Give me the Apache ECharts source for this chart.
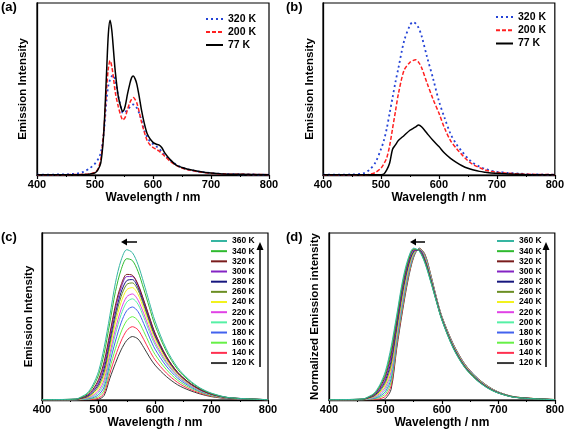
<!DOCTYPE html>
<html><head><meta charset="utf-8">
<script src="https://cdn.jsdelivr.net/npm/echarts@6/dist/echarts.min.js"></script>
<style>html,body{margin:0;padding:0;background:#fff}#c{width:567px;height:431px}</style>
</head><body><div id="c"></div>
<script>
// ---------- Panel (a) ----------
const A_WL = [400,450,470,480,490,500,505,510,515,520,523,526,529,532,535,540,545,548,552,556,560,563,566,569,572,576,580,585,590,595,600,605,610,615,620,630,640,650,660,670,680,700,720,750,800];
const A_320 = [0.002,0.004,0.009,0.018,0.037,0.066,0.09,0.13,0.24,0.44,0.52,0.555,0.575,0.58,0.55,0.46,0.39,0.36,0.365,0.38,0.395,0.405,0.41,0.405,0.39,0.36,0.32,0.26,0.22,0.195,0.18,0.168,0.155,0.135,0.115,0.086,0.06,0.043,0.033,0.025,0.019,0.011,0.007,0.004,0.002];
const A_200 = [0.002,0.002,0.003,0.004,0.006,0.015,0.035,0.09,0.25,0.50,0.62,0.665,0.63,0.56,0.48,0.40,0.34,0.32,0.335,0.38,0.42,0.44,0.45,0.44,0.42,0.37,0.31,0.25,0.20,0.175,0.16,0.15,0.14,0.125,0.11,0.078,0.056,0.04,0.031,0.024,0.018,0.01,0.006,0.004,0.002];
const A_77 = [0.002,0.002,0.002,0.003,0.005,0.012,0.03,0.07,0.24,0.60,0.82,0.90,0.84,0.72,0.60,0.46,0.39,0.37,0.40,0.47,0.53,0.565,0.575,0.56,0.53,0.46,0.38,0.30,0.24,0.21,0.19,0.18,0.175,0.16,0.13,0.088,0.058,0.044,0.034,0.027,0.02,0.011,0.006,0.004,0.002];

// ---------- Panel (b) ----------
const B_WL = [400,450,470,480,490,500,505,510,515,520,525,530,540,550,555,560,565,570,580,590,600,610,620,630,640,650,660,670,680,690,700,720,740,760,800];
const B_320 = [0.002,0.003,0.01,0.03,0.07,0.15,0.20,0.27,0.36,0.45,0.54,0.62,0.78,0.87,0.89,0.88,0.855,0.81,0.68,0.56,0.43,0.33,0.24,0.18,0.136,0.097,0.068,0.049,0.035,0.025,0.019,0.012,0.008,0.004,0.002];
const B_200 = [0.002,0.002,0.002,0.004,0.014,0.04,0.065,0.10,0.17,0.27,0.37,0.47,0.61,0.655,0.665,0.67,0.655,0.625,0.53,0.44,0.36,0.27,0.20,0.155,0.117,0.083,0.058,0.043,0.029,0.021,0.016,0.01,0.006,0.004,0.002];
const B_77 = [0.001,0.001,0.001,0.001,0.001,0.002,0.006,0.03,0.07,0.15,0.175,0.20,0.23,0.26,0.27,0.28,0.29,0.28,0.24,0.20,0.165,0.126,0.097,0.074,0.054,0.039,0.029,0.021,0.016,0.012,0.01,0.006,0.004,0.002,0.001];

// ---------- Panels (c) and (d) ----------
const CD_WL = [400,460,470,480,490,500,510,520,530,540,550,560,570,580,590,600,620,640,660,680,700,730,800];
const TEMPS = ['360 K','340 K','320 K','300 K','280 K','260 K','240 K','220 K','200 K','180 K','160 K','140 K','120 K'];
const TEMP_COLORS = ['#36b5a2','#2fba2f','#7a1c1c','#8424c4','#16167e','#6b8e23','#f2f21e','#e042e6','#55f0a5','#4262ee','#66f046','#ff3050','#3a3a3a'];

// (c) emission intensity
const C_360 = [0.002,0.006,0.020,0.041,0.090,0.171,0.315,0.504,0.702,0.837,0.900,0.882,0.810,0.702,0.585,0.473,0.306,0.194,0.122,0.072,0.041,0.015,0.002];
const C_340 = [0.002,0.005,0.017,0.035,0.078,0.149,0.278,0.461,0.649,0.780,0.846,0.835,0.769,0.666,0.555,0.448,0.292,0.184,0.116,0.069,0.039,0.014,0.002];
const C_320 = [0.002,0.005,0.014,0.029,0.063,0.122,0.230,0.397,0.568,0.689,0.752,0.747,0.692,0.599,0.498,0.402,0.262,0.166,0.105,0.063,0.035,0.014,0.002];
const C_300 = [0.002,0.004,0.013,0.026,0.056,0.109,0.210,0.379,0.548,0.671,0.739,0.739,0.686,0.595,0.494,0.398,0.261,0.166,0.105,0.063,0.035,0.014,0.002];
const C_280 = [0.001,0.004,0.011,0.022,0.049,0.095,0.188,0.356,0.520,0.645,0.715,0.721,0.672,0.582,0.482,0.389,0.256,0.163,0.104,0.062,0.035,0.013,0.001];
const C_260 = [0.001,0.003,0.009,0.018,0.041,0.082,0.165,0.332,0.495,0.619,0.692,0.701,0.657,0.569,0.471,0.380,0.251,0.160,0.102,0.061,0.034,0.013,0.001];
const C_240 = [0.001,0.003,0.007,0.016,0.034,0.068,0.143,0.306,0.462,0.585,0.660,0.673,0.632,0.547,0.452,0.366,0.241,0.155,0.099,0.060,0.033,0.013,0.002];
const C_220 = [0.001,0.002,0.006,0.012,0.027,0.054,0.120,0.276,0.424,0.543,0.618,0.635,0.598,0.518,0.428,0.346,0.229,0.147,0.094,0.057,0.032,0.012,0.002];
const C_200 = [0.001,0.001,0.004,0.009,0.020,0.043,0.099,0.252,0.395,0.511,0.586,0.606,0.573,0.496,0.409,0.331,0.220,0.142,0.090,0.055,0.031,0.012,0.002];
const C_180 = [0.001,0.001,0.003,0.006,0.014,0.031,0.078,0.221,0.353,0.462,0.535,0.557,0.529,0.458,0.377,0.305,0.203,0.131,0.084,0.051,0.029,0.011,0.002];
const C_160 = [0,0.001,0.002,0.004,0.009,0.020,0.059,0.189,0.307,0.407,0.475,0.499,0.475,0.411,0.338,0.273,0.183,0.118,0.076,0.047,0.026,0.010,0.002];
const C_140 = [0,0,0.001,0.002,0.004,0.011,0.041,0.158,0.263,0.353,0.416,0.439,0.420,0.363,0.298,0.241,0.162,0.105,0.067,0.041,0.023,0.009,0.001];
const C_120 = [0,0,0,0,0,0.004,0.027,0.129,0.220,0.300,0.357,0.380,0.365,0.315,0.258,0.209,0.141,0.091,0.059,0.036,0.020,0.008,0.001];

// (d) normalized emission intensity
const D_360 = [0.002,0.007,0.022,0.045,0.10,0.19,0.35,0.56,0.78,0.93,1.0,0.98,0.90,0.78,0.65,0.525,0.34,0.215,0.135,0.08,0.045,0.017,0.002];
const D_340 = [0.002,0.006,0.020,0.041,0.092,0.175,0.327,0.542,0.763,0.918,0.995,0.982,0.905,0.784,0.653,0.527,0.343,0.217,0.137,0.081,0.046,0.017,0.002];
const D_320 = [0.002,0.006,0.018,0.038,0.083,0.16,0.303,0.523,0.747,0.907,0.99,0.983,0.91,0.788,0.655,0.529,0.345,0.219,0.138,0.083,0.046,0.018,0.002];
const D_300 = [0.002,0.005,0.017,0.034,0.075,0.145,0.28,0.505,0.73,0.895,0.985,0.985,0.915,0.793,0.658,0.531,0.348,0.221,0.14,0.084,0.047,0.018,0.002];
const D_280 = [0.001,0.005,0.015,0.03,0.067,0.13,0.257,0.487,0.713,0.883,0.98,0.987,0.92,0.797,0.66,0.533,0.35,0.223,0.142,0.085,0.048,0.018,0.002];
const D_260 = [0.001,0.004,0.013,0.026,0.058,0.115,0.233,0.468,0.697,0.872,0.975,0.988,0.925,0.801,0.663,0.535,0.353,0.225,0.143,0.086,0.048,0.018,0.002];
const D_240 = [0.001,0.004,0.011,0.023,0.05,0.10,0.21,0.45,0.68,0.86,0.97,0.99,0.93,0.805,0.665,0.538,0.355,0.228,0.145,0.088,0.049,0.019,0.003];
const D_220 = [0.001,0.003,0.009,0.019,0.042,0.085,0.187,0.432,0.663,0.848,0.965,0.992,0.935,0.809,0.668,0.54,0.358,0.23,0.147,0.089,0.05,0.019,0.003];
const D_200 = [0.001,0.002,0.007,0.015,0.033,0.07,0.163,0.413,0.647,0.837,0.96,0.993,0.94,0.813,0.67,0.542,0.36,0.232,0.148,0.09,0.05,0.019,0.003];
const D_180 = [0.001,0.002,0.006,0.011,0.025,0.055,0.14,0.395,0.63,0.825,0.955,0.995,0.945,0.818,0.673,0.544,0.363,0.234,0.15,0.091,0.051,0.019,0.003];
const D_160 = [0,0.001,0.004,0.008,0.017,0.04,0.117,0.377,0.613,0.813,0.95,0.997,0.95,0.822,0.675,0.546,0.365,0.236,0.152,0.093,0.052,0.02,0.003];
const D_140 = [0,0.001,0.002,0.004,0.008,0.025,0.093,0.358,0.597,0.802,0.945,0.998,0.955,0.826,0.678,0.548,0.368,0.238,0.153,0.094,0.052,0.02,0.003];
const D_120 = [0,0,0,0,0,0.01,0.07,0.34,0.58,0.79,0.94,1.0,0.96,0.83,0.68,0.55,0.37,0.24,0.155,0.095,0.053,0.02,0.003];

const C_VALUES = [C_360,C_340,C_320,C_300,C_280,C_260,C_240,C_220,C_200,C_180,C_160,C_140,C_120];
const D_VALUES = [D_360,D_340,D_320,D_300,D_280,D_260,D_240,D_220,D_200,D_180,D_160,D_140,D_120];

const X_TICKS = [400, 500, 600, 700, 800];

// ---------- build chart ----------
const FONT = "'Liberation Sans', Arial, Helvetica, sans-serif";
function pairs(wl, v) { return wl.map((w, i) => [w, v[i]]); }

const GRIDS = [
  {left: 37, top: 3, width: 232, height: 172},
  {left: 323, top: 3, width: 234, height: 172},
  {left: 42, top: 233, width: 226, height: 167},
  {left: 329, top: 233, width: 226, height: 167}
];
const YNAMES = ['Emission Intensity', 'Emission Intensity', 'Emission Intensity', 'Normalized Emission intensity'];
const YMAX = [1, 1, 1, 1.1];
const YGAP = [8, 7, 7, 8];

const grid = GRIDS.map(g => Object.assign({show: true, borderColor: '#000', borderWidth: 1.2, backgroundColor: 'transparent'}, g));
const xAxis = GRIDS.map((g, i) => ({
  gridIndex: i, type: 'value', min: X_TICKS[0], max: X_TICKS[X_TICKS.length - 1], interval: X_TICKS[1] - X_TICKS[0],
  axisLine: {show: true, onZero: false, lineStyle: {color: '#000', width: 1.3}},
  axisTick: {show: true, inside: false, length: 4, lineStyle: {color: '#000', width: 1.2}},
  minorTick: {show: true, splitNumber: 2, length: 2, lineStyle: {color: '#000', width: 1}},
  axisLabel: {color: '#000', fontWeight: 'bold', fontSize: 11, fontFamily: FONT, margin: 4},
  splitLine: {show: false},
  name: 'Wavelength / nm', nameLocation: 'middle', nameGap: 17,
  nameTextStyle: {color: '#000', fontWeight: 'bold', fontSize: 12, fontFamily: FONT}
}));
const yAxis = GRIDS.map((g, i) => ({
  gridIndex: i, type: 'value', min: 0, max: YMAX[i],
  axisLine: {show: true, lineStyle: {color: '#000', width: 1.3}},
  axisTick: {show: false}, axisLabel: {show: false}, splitLine: {show: false},
  name: YNAMES[i], nameLocation: 'middle', nameGap: YGAP[i], nameRotate: 90,
  nameTextStyle: {color: '#000', fontWeight: 'bold', fontSize: 11.5, fontFamily: FONT}
}));

const series = [];
function addLine(name, idx, wl, vals, color, width, type) {
  series.push({
    name: name, type: 'line', xAxisIndex: idx, yAxisIndex: idx,
    data: pairs(wl, vals), symbol: 'none', showSymbol: false, smooth: 0.3,
    lineStyle: {color: color, width: width, type: type || 'solid'},
    itemStyle: {color: color}, silent: true, animation: false
  });
}
const DOT = [2, 3];
const DASH = [4, 2];
addLine('a:320 K', 0, A_WL, A_320, '#2443d6', 1.8, DOT);
addLine('a:200 K', 0, A_WL, A_200, '#ff2020', 1.5, DASH);
addLine('a:77 K', 0, A_WL, A_77, '#000000', 1.5);
addLine('b:320 K', 1, B_WL, B_320, '#2443d6', 1.8, DOT);
addLine('b:200 K', 1, B_WL, B_200, '#ff2020', 1.5, DASH);
addLine('b:77 K', 1, B_WL, B_77, '#000000', 1.5);
for (let k = TEMPS.length - 1; k >= 0; k--) {
  addLine('c:' + TEMPS[k], 2, CD_WL, C_VALUES[k], TEMP_COLORS[k], 1);
}
for (let k = TEMPS.length - 1; k >= 0; k--) {
  addLine('d:' + TEMPS[k], 3, CD_WL, D_VALUES[k], TEMP_COLORS[k], 1);
}

const legText = (fs, lh) => ({color: '#000', fontWeight: 'bold', fontSize: fs, fontFamily: FONT, lineHeight: lh});
const legBase = {orient: 'vertical', selectedMode: false, formatter: n => n.slice(2), padding: 0,
  itemStyle: {opacity: 0, borderWidth: 0}};
const legend = [
  Object.assign({}, legBase, {left: 205, top: 12.5, itemWidth: 17, itemHeight: 10, itemGap: 0, textStyle: legText(10.5, 13),
    data: ['a:320 K', 'a:200 K', 'a:77 K']}),
  Object.assign({}, legBase, {left: 495, top: 10.5, itemWidth: 17, itemHeight: 10, itemGap: 0, textStyle: legText(10.5, 13.2),
    data: ['b:320 K', 'b:200 K', 'b:77 K']}),
  Object.assign({}, legBase, {left: 210, top: 236, itemWidth: 16, itemHeight: 10, itemGap: 0.17, textStyle: legText(8.5, 10),
    data: TEMPS.map(t => 'c:' + t)}),
  Object.assign({}, legBase, {left: 496, top: 236, itemWidth: 17, itemHeight: 10, itemGap: 0.17, textStyle: legText(8.5, 10),
    data: TEMPS.map(t => 'd:' + t)})
];

const lbl = (x, y, t) => ({type: 'text', left: x, top: y, style: {text: t, fill: '#000', font: 'bold 13px ' + FONT}});
const ln = (x1, y1, x2, y2) => ({type: 'line', shape: {x1, y1, x2, y2}, style: {stroke: '#000', lineWidth: 1.5}});
const tri = (pts) => ({type: 'polygon', shape: {points: pts}, style: {fill: '#000'}});
const graphic = [
  lbl(1, 1, '(a)'), lbl(286, 1, '(b)'), lbl(1, 231, '(c)'), lbl(286, 231, '(d)'),
  // (c) arrows
  ln(137, 242, 126, 242), tri([[121, 242], [127, 238.5], [127, 245.5]]),
  ln(260, 367, 260, 249), tri([[260, 242], [256.5, 250], [263.5, 250]]),
  // (d) arrows
  ln(425, 242, 415, 242), tri([[410, 242], [416, 238.5], [416, 245.5]]),
  ln(546, 367, 546, 249), tri([[546, 242], [542.5, 250], [549.5, 250]])
];

const chart = echarts.init(document.getElementById('c'), null, {renderer: 'canvas'});
chart.setOption({
  animation: false, backgroundColor: '#fff',
  grid, xAxis, yAxis, series, legend, graphic
});
</script></body></html>
